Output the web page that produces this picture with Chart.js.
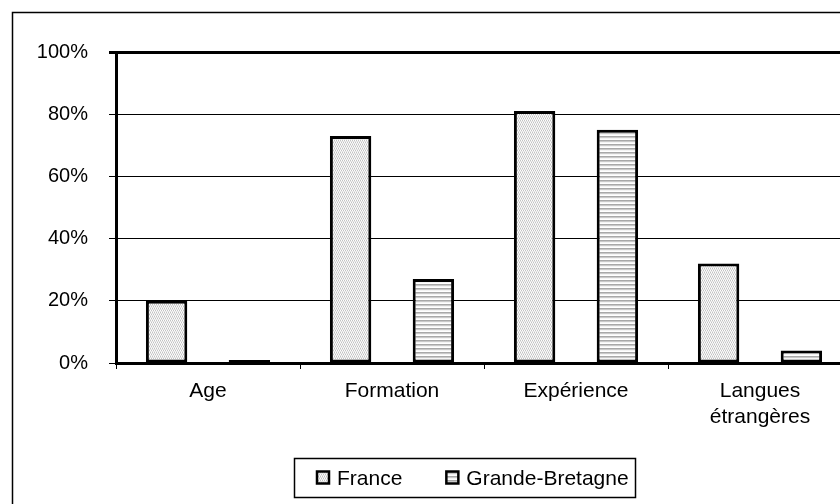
<!DOCTYPE html>
<html>
<head>
<meta charset="utf-8">
<title>France / Grande-Bretagne</title>
<script src="https://cdn.jsdelivr.net/npm/chart.js@4/dist/chart.umd.min.js"></script>
<style>
  html, body { margin: 0; padding: 0; background: #fff; overflow: hidden; width: 840px; height: 504px; }
  #c { position: absolute; left: 0; top: 0; }
</style>
</head>
<body>
<canvas id="c" width="930" height="504"></canvas>
<script>
// Categories, series and axis ticks
const categories = ['Age', 'Formation', 'Expérience', ['Langues', 'étrangères']];
const seriesNames = ['France', 'Grande-Bretagne'];
const franceValues = [20, 73, 81, 32];
const britainValues = [1, 27, 75, 4];
const yTicks = [0, 20, 40, 60, 80, 100];

const FONT = '"Liberation Sans", Arial, sans-serif';
const canvas = document.getElementById('c');
const ctx2d = canvas.getContext('2d');

// Small repeating tiles used as bar fills
function tilePattern(rows) {
  const tile = document.createElement('canvas');
  tile.width = rows[0].length;
  tile.height = rows.length;
  const t = tile.getContext('2d');
  rows.forEach((row, y) => row.forEach((col, x) => { t.fillStyle = col; t.fillRect(x, y, 1, 1); }));
  return ctx2d.createPattern(tile, 'repeat');
}
const W = '#ffffff', D = '#c2c2c2', L = '#e4e4e4';
const dottedFill = tilePattern([
  [D, W, D, W],
  [L, L, L, L],
  [W, D, W, D],
  [L, '#ececec', L, '#ececec']
]);
const stripedFill = tilePattern([
  ['#a8a8a8'],
  ['#c9c9c9'],
  ['#f4f4f4'],
  ['#ffffff']
]);

// White background, outer frame and framed legend
const framePlugin = {
  id: 'frame',
  beforeDraw(chart) {
    const c = chart.ctx;
    c.save();
    c.fillStyle = '#fff';
    c.fillRect(0, 0, chart.width, chart.height);
    c.restore();
  },
  afterDraw(chart) {
    const c = chart.ctx;
    c.save();
    c.strokeStyle = '#000';
    c.lineWidth = 1.5;
    c.strokeRect(12.5, 12.5, 904, 600);

    c.font = '21px ' + FONT;
    const items = chart.data.datasets.map(ds => ({
      label: ds.label, fill: ds.backgroundColor, w: c.measureText(ds.label).width
    }));
    const sw = 12, gapText = 8, gapItem = 44, padL = 23, padR = 6;
    const content = items.reduce((s, it, i) => s + sw + gapText + it.w + (i ? gapItem : 0), 0);
    const boxW = Math.round(padL + content + padR);
    const left = Math.round(464.5 - boxW / 2), top = 458, h = 39;
    c.lineWidth = 1.5;
    c.strokeRect(left + 0.5, top + 0.5, boxW, h);
    const midY = top + h / 2;
    let x = left + padL;
    items.forEach(it => {
      c.fillStyle = it.fill;
      c.fillRect(x, midY - sw / 2, sw, sw);
      c.lineWidth = 2.5;
      c.strokeStyle = '#000';
      c.strokeRect(x, midY - sw / 2, sw, sw);
      c.fillStyle = '#000';
      c.textBaseline = 'middle';
      c.textAlign = 'left';
      c.fillText(it.label, x + sw + gapText, midY + 2);
      x += sw + gapText + it.w + gapItem;
    });
    c.restore();
  }
};

new Chart(canvas, {
  type: 'bar',
  data: {
    labels: categories,
    datasets: [
      { label: seriesNames[0], data: franceValues, backgroundColor: dottedFill,
        borderColor: '#000', borderWidth: 3, borderSkipped: false },
      { label: seriesNames[1], data: britainValues, backgroundColor: stripedFill,
        borderColor: '#000', borderWidth: 3, borderSkipped: false }
    ]
  },
  options: {
    responsive: false,
    animation: false,
    datasets: { bar: { categoryPercentage: 0.9, barPercentage: 0.5 } },
    layout: { padding: { left: 12, top: 52, right: 78, bottom: 0 } },
    plugins: { legend: { display: false }, tooltip: { enabled: false } },
    scales: {
      x: {
        grid: { offset: true, drawOnChartArea: false, drawTicks: true, tickLength: 6, color: '#000', lineWidth: 1 },
        border: { display: true, color: '#000', width: 3 },
        ticks: { color: '#000', font: { family: FONT, size: 21, lineHeight: 1.2 }, padding: 10,
                 maxRotation: 0, autoSkip: false },
        afterFit(s) { s.height = 141; }
      },
      y: {
        min: 0, max: 100,
        afterBuildTicks(s) { s.ticks = yTicks.map(v => ({ value: v })); },
        grid: { color: '#000', lineWidth: c => (c.tick && c.tick.value === 100 ? 3 : 1), tickLength: 7 },
        border: { color: '#000', width: 3 },
        ticks: { color: '#000', font: { family: FONT, size: 20 }, padding: 21, callback: v => v + '%' },
        afterFit(s) { s.width = 104; }
      }
    }
  },
  plugins: [framePlugin]
});
</script>
</body>
</html>
